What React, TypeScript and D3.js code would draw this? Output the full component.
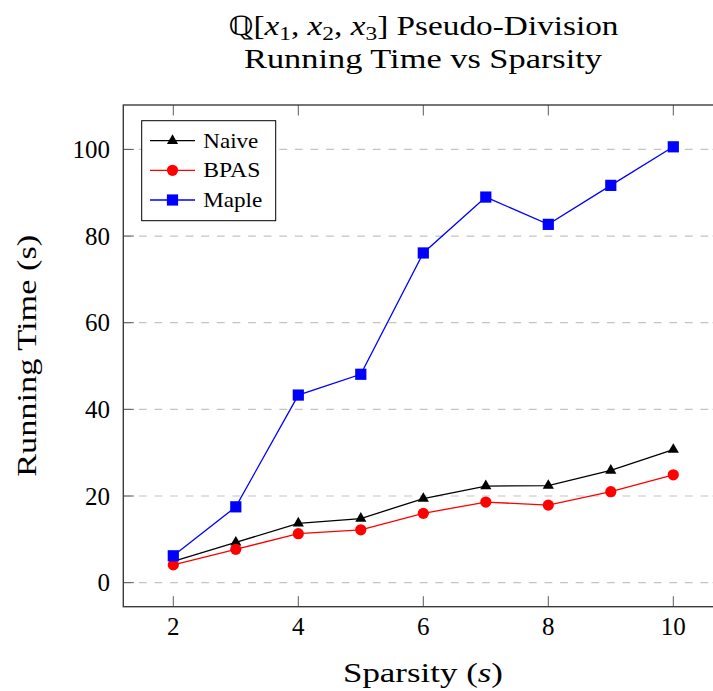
import React from "react";
import * as d3 from "d3";

// Sparsity levels and measured running times (seconds)
const sparsity = [2, 3, 4, 5, 6, 7, 8, 9, 10];
const naive = [4.9, 9.3, 13.7, 14.8, 19.4, 22.3, 22.4, 25.9, 30.7];
const bpas = [4.1, 7.7, 11.3, 12.2, 16.0, 18.6, 17.9, 21.0, 24.9];
const maple = [6.2, 17.5, 43.3, 48.1, 76.1, 89.0, 82.7, 91.7, 100.6];

const xTicks = [2, 4, 6, 8, 10];
const yTicks = [0, 20, 40, 60, 80, 100];

const seriesNames = ["Naive", "BPAS", "Maple"];
const seriesColors = ["#000000", "#ff0000", "#0000ff"];
const seriesMarks = ["triangle", "circle", "square"];
const seriesValues = [naive, bpas, maple];
const legendWidths = [55, 57, 59];

const W = 713;
const H = 691;
const FONT = "'Liberation Serif', 'Times New Roman', serif";

const plot = { left: 123.3, right: 723.3, top: 105, bottom: 606.7 };

const x = d3.scaleLinear().domain([1.2, 10.8]).range([plot.left, plot.right]);
const y = d3.scaleLinear().domain([-5.55, 110.25]).range([plot.bottom, plot.top]);

const R = 5.6;

function Marker({ kind, cx, cy, color }: { kind: string; cx: number; cy: number; color: string }) {
  if (kind === "circle") return <circle cx={cx} cy={cy} r={R} fill={color} />;
  if (kind === "square")
    return <rect x={cx - R} y={cy - R} width={2 * R} height={2 * R} fill={color} />;
  const r = R * 1.15;
  const pts = [
    [cx, cy - r],
    [cx - 0.866 * r, cy + 0.5 * r],
    [cx + 0.866 * r, cy + 0.5 * r],
  ]
    .map((p) => p.join(","))
    .join(" ");
  return <polygon points={pts} fill={color} />;
}

export default function App() {
  const line = d3
    .line<number>()
    .x((_, i) => x(sparsity[i]))
    .y((d) => y(d));

  const legendRows = [140.7, 170.3, 200];

  return (
    <svg
      width={W}
      height={H}
      style={{ position: "absolute", left: 0, top: 0, background: "#fff" }}
      fontFamily={FONT}
    >
      <defs>
        <clipPath id="plotArea">
          <rect x={plot.left} y={plot.top} width={plot.right - plot.left} height={plot.bottom - plot.top} />
        </clipPath>
      </defs>

      {/* title */}
      <text x={423} y={35} textAnchor="middle" fontSize={27} textLength={391} lengthAdjust="spacingAndGlyphs">
        <tspan>ℚ[</tspan>
        <tspan fontStyle="italic">x</tspan>
        <tspan fontSize={19} dy={5}>1</tspan>
        <tspan dy={-5}>, </tspan>
        <tspan fontStyle="italic">x</tspan>
        <tspan fontSize={19} dy={5}>2</tspan>
        <tspan dy={-5}>, </tspan>
        <tspan fontStyle="italic">x</tspan>
        <tspan fontSize={19} dy={5}>3</tspan>
        <tspan dy={-5}>] Pseudo-Division</tspan>
      </text>
      <text x={423} y={68.3} textAnchor="middle" fontSize={27} textLength={358} lengthAdjust="spacingAndGlyphs">
        Running Time vs Sparsity
      </text>

      {/* horizontal grid */}
      <g clipPath="url(#plotArea)">
        {yTicks.map((t) => (
          <line
            key={t}
            x1={plot.left}
            x2={plot.right}
            y1={y(t)}
            y2={y(t)}
            stroke="#c4c4c4"
            strokeWidth={1.2}
            strokeDasharray="7.8 7.8"
          />
        ))}
      </g>

      {/* ticks on all four sides */}
      <g stroke="#5a5a5a" strokeWidth={1}>
        {xTicks.map((t) => (
          <g key={t}>
            <line x1={x(t)} x2={x(t)} y1={plot.bottom} y2={plot.bottom - 10.5} />
            <line x1={x(t)} x2={x(t)} y1={plot.top} y2={plot.top + 10.5} />
          </g>
        ))}
        {yTicks.map((t) => (
          <g key={t}>
            <line x1={plot.left} x2={plot.left + 10.5} y1={y(t)} y2={y(t)} />
            <line x1={plot.right} x2={plot.right - 10.5} y1={y(t)} y2={y(t)} />
          </g>
        ))}
      </g>

      {/* series */}
      <g clipPath="url(#plotArea)">
        {seriesValues.map((vals, s) => (
          <g key={seriesNames[s]}>
            <path d={line(vals) || ""} fill="none" stroke={seriesColors[s]} strokeWidth={1.3} />
            {vals.map((v, i) => (
              <Marker key={i} kind={seriesMarks[s]} cx={x(sparsity[i])} cy={y(v)} color={seriesColors[s]} />
            ))}
          </g>
        ))}
      </g>

      {/* frame */}
      <rect
        x={plot.left}
        y={plot.top}
        width={plot.right - plot.left}
        height={plot.bottom - plot.top}
        fill="none"
        stroke="#3c3c3c"
        strokeWidth={1.4}
      />

      {/* tick labels */}
      {xTicks.map((t) => (
        <text key={t} x={x(t)} y={635} textAnchor="middle" fontSize={25}>
          {t}
        </text>
      ))}
      {yTicks.map((t) => (
        <text key={t} x={110} y={y(t) + 8.7} textAnchor="end" fontSize={25}>
          {t}
        </text>
      ))}

      {/* axis labels */}
      <text x={423} y={681.7} textAnchor="middle" fontSize={27} textLength={160} lengthAdjust="spacingAndGlyphs">
        Sparsity (<tspan fontStyle="italic">s</tspan>)
      </text>
      <text
        transform={`translate(36,${(plot.top + plot.bottom) / 2}) rotate(-90)`}
        textAnchor="middle"
        fontSize={27}
        textLength={242}
        lengthAdjust="spacingAndGlyphs"
      >
        Running Time (s)
      </text>

      {/* legend */}
      <rect x={141.7} y={120.7} width={134} height={100} fill="#fff" stroke="#000" strokeWidth={1} />
      {seriesNames.map((name, s) => (
        <g key={name}>
          <line x1={150} x2={195} y1={legendRows[s]} y2={legendRows[s]} stroke={seriesColors[s]} strokeWidth={1.3} />
          <Marker kind={seriesMarks[s]} cx={172.5} cy={legendRows[s]} color={seriesColors[s]} />
          <text
            x={203.3}
            y={legendRows[s] + 6.8}
            fontSize={21}
            textLength={legendWidths[s]}
            lengthAdjust="spacingAndGlyphs"
          >
            {name}
          </text>
        </g>
      ))}
    </svg>
  );
}
